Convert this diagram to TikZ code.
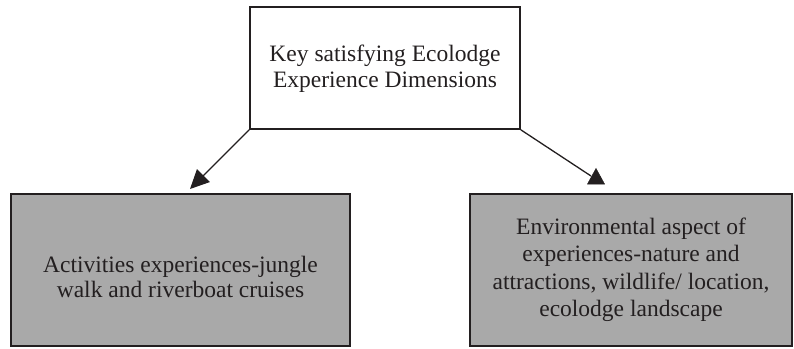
\documentclass[tikz,border=0pt]{standalone}
\usepackage{fontspec}
\setmainfont{Liberation Serif}
\usetikzlibrary{arrows.meta}
\definecolor{boxgrey}{HTML}{A9A9A9}
\definecolor{ink}{HTML}{231F20}
\tikzset{
  dimbox/.style={draw=ink, line width=1.6pt, rectangle, inner sep=0pt},
  leafbox/.style={dimbox, fill=boxgrey},
  boxtext/.style={align=center, text=ink, inner sep=0pt},
  roottext/.style={boxtext, font=\fontsize{23.5}{26}\selectfont},
  acttext/.style={boxtext, font=\fontsize{23.5}{24.5}\selectfont},
  envtext/.style={boxtext, font=\fontsize{23.5}{27.5}\selectfont},
  link/.style={draw=ink, line width=1.3pt},
  arrowlink/.style={link, -{Triangle[length=19pt,width=18pt]}},
  headfill/.style={fill=ink, draw=ink, line width=0.5pt, line join=miter}
}
\begin{document}
\begin{tikzpicture}[x=1pt, y=-1pt]
  \useasboundingbox (0,0) rectangle (794,348);
  % boxes
  \node[dimbox, minimum width=270pt, minimum height=122pt] (root) at (385,68) {};
  \node[leafbox, minimum width=339pt, minimum height=152pt] (act) at (180.5,270) {};
  \node[leafbox, minimum width=322pt, minimum height=152pt] (env) at (631,270) {};
  % box texts
  \node[roottext, yshift=-1pt] (rootlbl) at (root.center)
    {Key satisfying Ecolodge\\ Experience Dimensions};
  \node[acttext, yshift=-7pt] (actlbl) at (act.center)
    {Activities experiences-jungle\\ walk and riverboat cruises};
  \node[envtext] (envlbl) at (env.center)
    {Environmental aspect of\\ experiences-nature and\\ attractions, wildlife/ location,\\ ecolodge landscape};
  % left connector with its arrowhead
  \coordinate (tipL) at (190,189);
  \draw[arrowlink] (root.south west) -- (tipL);
  % right connector ends in an upright triangular head
  \coordinate (endR) at (591,176);
  \coordinate (headA) at (596,168.5);
  \coordinate (headB) at (587.5,184);
  \coordinate (headC) at (604.5,184);
  \draw[link] (root.south east) -- (endR);
  \filldraw[headfill] (headA) -- (headB) -- (headC) -- cycle;
\end{tikzpicture}
\end{document}
